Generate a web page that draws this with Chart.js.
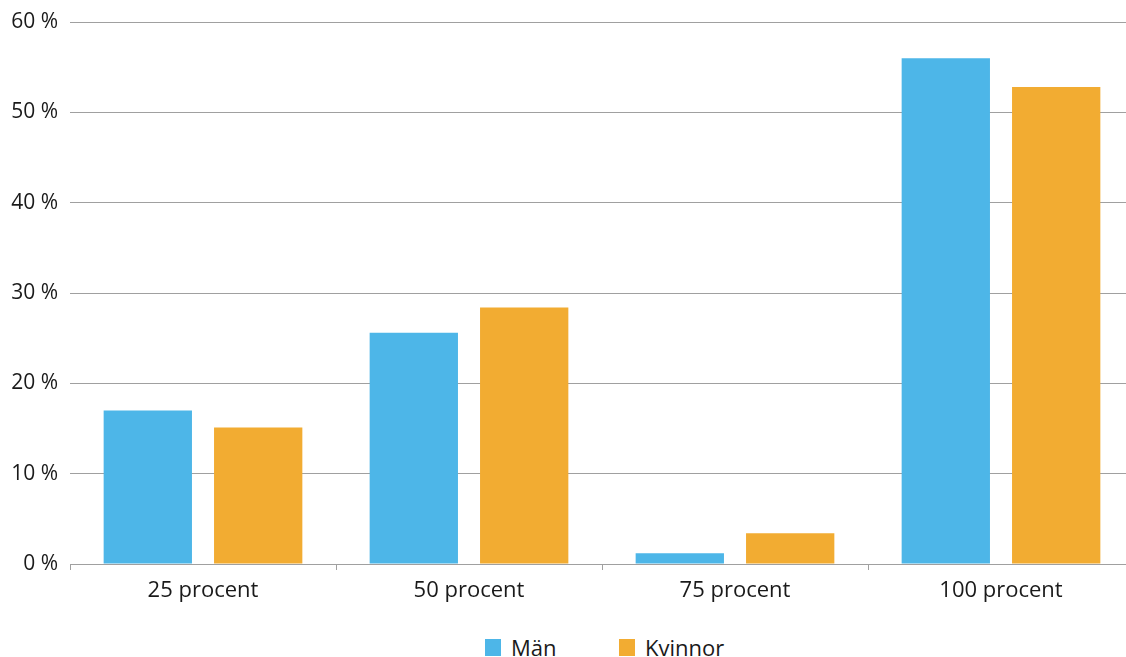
<!DOCTYPE html>
<html>
<head>
<meta charset="utf-8">
<script src="https://cdn.jsdelivr.net/npm/chart.js@4"></script>
<style>
  html, body { margin: 0; padding: 0; background: #fff; overflow: hidden; }
  #wrap { position: relative; width: 1134px; height: 620px; }
  #legend { position: absolute; top: 635px; left: 0; width: 1126px; height: 24px; font-family: "Open Sans", sans-serif; font-size: 22px; line-height: 24px; color: #1a1a1a; }
  .item { position: absolute; top: 0; display: flex; align-items: center; height: 24px; }
  .box { width: 16px; height: 17px; margin-right: 10px; }
</style>
</head>
<body>
<div id="wrap"><canvas id="myChart"></canvas></div>
<div id="legend">
  <div class="item" style="left:485px"><span class="box" style="background:#4db6e8"></span>Män</div>
  <div class="item" style="left:619px"><span class="box" style="background:#f2ac32"></span>Kvinnor</div>
</div>
<script>
const kategorier = ["25 procent", "50 procent", "75 procent", "100 procent"];
const man = [17.0, 25.6, 1.2, 56.0];
const kvinnor = [15.1, 28.4, 3.4, 52.8];
const serienamn = ["Män", "Kvinnor"];

function grafico_barra(){
    const ctx = document.getElementById("myChart");
    new Chart(ctx, {
        type: "bar",
        data: {
            labels: kategorier,
            datasets: [
                { label: serienamn[0], data: man, backgroundColor: "#4db6e8" },
                { label: serienamn[1], data: kvinnor, backgroundColor: "#f2ac32" },
            ],
        },
        options: {
            responsive: false,
            animation: false,
            devicePixelRatio: 1,
            categoryPercentage: 0.83,
            barPercentage: 0.8,
            layout: { padding: { top: 22, right: 0, left: 0, bottom: 0 } },
            plugins: { legend: { display: false }, tooltip: { enabled: false } },
            scales: {
                x: {
                    afterFit: (s) => { s.height = 56; s.paddingLeft = 0; s.paddingRight = 0; },
                    grid: { drawOnChartArea: false, drawTicks: true, tickLength: 6, color: "#a0a0a0", offset: true },
                    border: { color: "#a0a0a0", width: 1 },
                    ticks: { color: "#1a1a1a", font: { family: "Open Sans", size: 22 }, padding: 8 },
                },
                y: {
                    min: 0,
                    max: 60,
                    afterFit: (s) => { s.width = 70; s.paddingTop = 0; s.paddingBottom = 0; },
                    grid: { drawTicks: false, color: "#a0a0a0", lineWidth: 1 },
                    border: { display: false },
                    ticks: {
                        stepSize: 10,
                        padding: 12,
                        color: "#1a1a1a",
                        font: { family: "Open Sans", size: 21 },
                        callback: (v) => v + " %",
                    },
                },
            },
        },
    });
}
const c = document.getElementById("myChart");
c.width = 1134; c.height = 620;
grafico_barra()
</script>
</body>
</html>
